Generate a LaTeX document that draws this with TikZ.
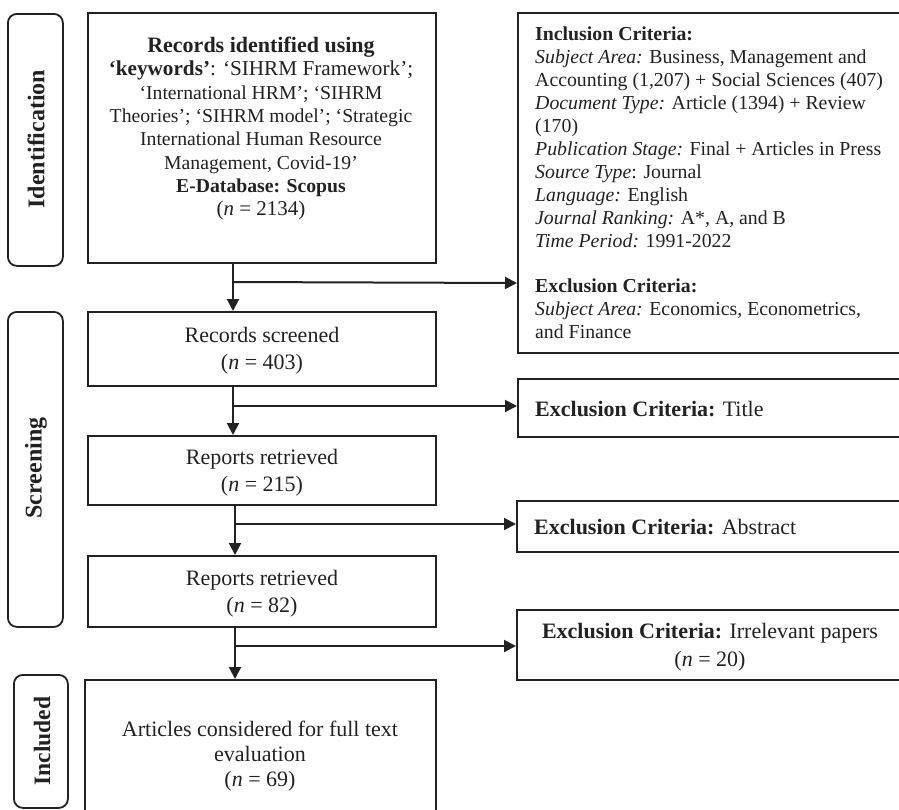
\documentclass[tikz,border=0pt]{standalone}
\usepackage{fontspec}
\setmainfont{Liberation Serif}
\usetikzlibrary{arrows.meta}
\definecolor{ink}{HTML}{222222}
\tikzset{
  frame/.style={draw=ink, line width=2pt, rectangle, inner sep=0pt, anchor=north west},
  phase/.style={draw=ink, line width=1.8pt, rounded corners=9pt, rectangle, inner sep=0pt, anchor=north west},
  phaselabel/.style={rotate=90, font=\fontsize{24}{26}\selectfont\bfseries, inner sep=0pt, text=ink},
  body/.style={align=center, inner sep=0pt, text=ink, font=\fontsize{22}{26.8}\selectfont},
  lefttext/.style={align=left, inner sep=0pt, text=ink, anchor=west, font=\fontsize{22}{26.5}\selectfont},
  flow/.style={draw=ink, line width=2pt, -{Triangle[length=12pt,width=12pt]}},
}
\begin{document}
\begin{tikzpicture}[x=1pt, y=-1pt]
\useasboundingbox (0,0) rectangle (899,809);
\clip (0,0) rectangle (899,809);
\fill[white] (0,0) rectangle (899,809);

% phase bars on the left
\node[phase, minimum width=55pt, minimum height=252pt] (pid) at (7,13) {};
\node[phase, minimum width=55pt, minimum height=315pt] (psc) at (7,311) {};
\node[phase, minimum width=54pt, minimum height=133pt] (pin) at (13,674) {};
\node[phaselabel] at (36,139) {Identification};
\node[phaselabel] at (36,468) {Screening};
\node[phaselabel, font=\fontsize{23.5}{26}\selectfont\bfseries] at (42,741) {Included};

% main flow boxes
\node[frame, minimum width=348pt, minimum height=250pt] (b1) at (87,12) {};
\node[frame, minimum width=348pt, minimum height=74pt] (b2) at (87,311) {};
\node[frame, minimum width=348pt, minimum height=69pt] (b3) at (87,435) {};
\node[frame, minimum width=348pt, minimum height=71pt] (b4) at (87,555) {};
\node[frame, minimum width=351pt, minimum height=160pt] (b5) at (84,679) {};

% side boxes
\node[frame, minimum width=400pt, minimum height=340pt] (s1) at (517,12) {};
\node[frame, minimum width=400pt, minimum height=58pt] (s2) at (517,378) {};
\node[frame, minimum width=400pt, minimum height=51pt] (s3) at (516,500) {};
\node[frame, minimum width=390pt, minimum height=70pt] (s4) at (516,609) {};

% box texts
\node[body, anchor=north, font=\fontsize{19.7}{23.3}\selectfont] at (261,37)
  {{\fontsize{22}{23.3}\selectfont\textbf{Records identified using}}\\
   {\fontsize{21.2}{23.3}\selectfont\textbf{‘keywords’}: ‘SIHRM Framework’;}\\
   ‘International HRM’; ‘SIHRM\\
   Theories’; ‘SIHRM model’; ‘Strategic\\
   International Human Resource\\
   Management, Covid-19’\\
   \textbf{E-Database: Scopus}\\
   {\fontsize{21}{23.3}\selectfont(\textit{n} = 2134)}};
\node[body, yshift=-2pt] at (b2.center) {Records screened\\(\textit{n} = 403)};
\node[body, yshift=-2pt] at (b3.center) {Reports retrieved\\(\textit{n} = 215)};
\node[body, yshift=-2pt] at (b4.center) {Reports retrieved\\(\textit{n} = 82)};
\node[body, anchor=center, font=\fontsize{22}{25.2}\selectfont] at (260,756)
  {Articles considered for full text\\evaluation\\(\textit{n} = 69)};

\node[lefttext, anchor=north west, font=\fontsize{19.8}{22.9}\selectfont] at (535,27)
  {\textbf{Inclusion Criteria:}\\
   \textit{Subject Area:} Business, Management and\\
   Accounting (1,207) + Social Sciences (407)\\
   \textit{Document Type:} Article (1394) + Review\\
   (170)\\
   \textit{Publication Stage:} Final + Articles in Press\\
   \textit{Source Type}: Journal\\
   \textit{Language:} English\\
   \textit{Journal Ranking:} A*, A, and B\\
   \textit{Time Period:} 1991-2022\\[22.9pt]
   \textbf{Exclusion Criteria:}\\
   \textit{Subject Area:} Economics, Econometrics,\\
   and Finance};
\node[lefttext] at (535,409) {\textbf{Exclusion Criteria:} Title};
\node[lefttext] at (534,527) {\textbf{Exclusion Criteria:} Abstract};
\node[body, font=\fontsize{22}{28}\selectfont] at (710,647) {\textbf{Exclusion Criteria:} Irrelevant papers\\(\textit{n} = 20)};

% connectors
\draw[flow] (233,0 |- b1.south) -- (233,0 |- b2.north);
\draw[flow] (233,282) -- (s1.west |- 0,283);
\draw[flow] (233,0 |- b2.south) -- (233,0 |- b3.north);
\draw[flow] (233,406) -- (s2.west |- 0,406);
\draw[flow] (235,0 |- b3.south) -- (235,0 |- b4.north);
\draw[flow] (235,524) -- (s3.west |- 0,524);
\draw[flow] (235,0 |- b4.south) -- (235,0 |- b5.north);
\draw[flow] (235,646) -- (s4.west |- 0,646);
\end{tikzpicture}
\end{document}
